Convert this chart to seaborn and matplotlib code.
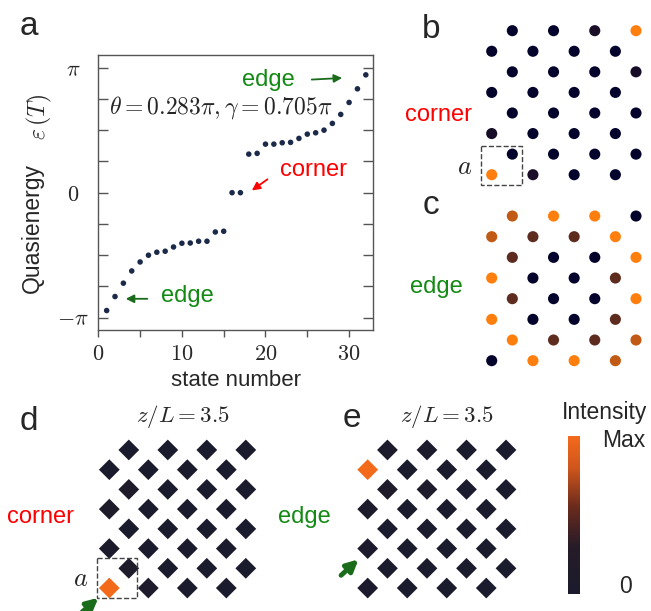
import numpy as np
import pandas as pd
import seaborn as sns
import matplotlib.pyplot as plt
from matplotlib.colors import LinearSegmentedColormap, Normalize
from matplotlib.cm import ScalarMappable
from matplotlib.patches import Rectangle

# Data

# Quasienergy spectrum (units of pi), panel a
state = list(range(1, 33))
energy = [-0.944, -0.832, -0.725, -0.627, -0.555, -0.501, -0.477, -0.469,
          -0.435, -0.405, -0.403, -0.389, -0.389, -0.315, -0.309, 0.0,
          0.0, 0.309, 0.315, 0.389, 0.389, 0.400, 0.403, 0.435,
          0.469, 0.480, 0.501, 0.555, 0.627, 0.723, 0.832, 0.944]

# Mode intensities on the 8 x 4 lattice (rows top to bottom), panels b and c
corner_mode = [[0, 0, 0.12, 1.0],
               [0, 0, 0, 0],
               [0, 0, 0, 0.1],
               [0, 0, 0, 0],
               [0, 0, 0, 0],
               [0.1, 0, 0, 0],
               [0, 0, 0, 0],
               [1.0, 0.12, 0, 0]]
edge_mode = [[0.75, 1.0, 1.0, 0],
             [0.75, 0.45, 0.45, 1.0],
             [0.45, 0, 0, 1.0],
             [1.0, 0, 0, 0.45],
             [0.45, 0, 0, 1.0],
             [1.0, 0, 0, 0.45],
             [1.0, 0.45, 0.45, 0.75],
             [0, 1.0, 1.0, 0.75]]

# Measured output intensities at z/L = 3.5, panels d and e
corner_out = [[0, 0, 0, 0],
              [0, 0, 0, 0],
              [0.12, 0, 0, 0],
              [0.1, 0, 0, 0],
              [0, 0, 0, 0],
              [0.06, 0, 0, 0],
              [0.1, 0, 0, 0],
              [1.0, 0.08, 0, 0]]
edge_out = [[0.05, 0.05, 0, 0],
            [1.0, 0, 0, 0],
            [0.15, 0.08, 0, 0],
            [0.06, 0, 0, 0],
            [0, 0, 0, 0],
            [0.03, 0, 0, 0],
            [0, 0, 0, 0],
            [0.02, 0, 0, 0]]


def lattice(vals):
    rows = []
    for r, row in enumerate(vals):
        for k, v in enumerate(row):
            col = 2 * k + 1 if r % 2 == 0 else 2 * k
            rows.append((col, r, v))
    return pd.DataFrame(rows, columns=['col', 'row', 'I'])


# Styles
sns.set_theme(style='white')
plt.rcParams['font.family'] = ['Liberation Sans', 'DejaVu Sans']
plt.rcParams['mathtext.fontset'] = 'cm'

cmap_mode = LinearSegmentedColormap.from_list(
    'mode', [(0, '#03032b'), (0.45, '#5e2c1f'), (0.75, '#c05a15'), (1, '#ff7f0e')])
cmap_exp = LinearSegmentedColormap.from_list(
    'exp', [(0, '#1a1b2d'), (0.3, '#261b28'), (0.55, '#6a2a1c'), (0.8, '#d0561c'), (1, '#f36a1b')])

green = '#138a13'
green_dk = '#1a6b1a'
red = '#ff0000'

W, H = 651, 611
fig = plt.figure(figsize=(W / 100, H / 100), dpi=100)


def px_axes(x0, y0, x1, y1):
    return fig.add_axes([x0 / W, 1 - y1 / H, (x1 - x0) / W, (y1 - y0) / H])


def ftext(px, py, s, **kw):
    fig.text(px / W, 1 - py / H, s, **kw)


# Panel a: quasienergy spectrum
ax = px_axes(98.3, 55, 373, 330)
sns.scatterplot(x=state, y=np.array(energy) * np.pi, color='#1c2a4a', s=16,
                edgecolor='none', ax=ax)
ax.set_xlim(0, 32.86)
ax.set_ylim(-1.10 * np.pi, 1.103 * np.pi)
ax.set_xticks([0, 10, 20, 30])
ax.set_xticks([5, 15, 25], minor=True)
ax.set_xticklabels(['$0$', '$10$', '$20$', '$30$'])
ax.set_yticks([-np.pi, 0, np.pi])
ax.set_yticks([k * np.pi / 4 for k in range(-4, 5)], minor=True)
ax.set_yticklabels([r'$-\pi$', '$0$', r'$\pi$'])
ax.tick_params(axis='y', which='both', direction='in', left=True, right=True,
               length=7, width=1, color='#555555', labelsize=16, pad=18)
ax.tick_params(axis='x', which='both', direction='out', bottom=True, top=False,
               length=5, width=1, color='#555555', labelsize=16, pad=5)
for lbl in ax.get_yticklabels():
    lbl.set_ha('center')
for sp in ax.spines.values():
    sp.set_color('#555555')
    sp.set_linewidth(1)
ax.set_xlabel('state number', fontsize=16, labelpad=4)
ax.set_ylabel('')

ax.text(14.6, 0.68 * np.pi, r'$\theta=0.283\pi,\gamma=0.705\pi$', fontsize=17,
        ha='center', va='center')
ax.text(20.4, 0.905 * np.pi, 'edge', color=green, fontsize=17, ha='center', va='center')
ax.annotate('', xy=(29.5, 0.92 * np.pi), xytext=(25.2, 0.905 * np.pi),
            arrowprops=dict(arrowstyle='-|>', color=green_dk, lw=1.3, mutation_scale=12))
ax.text(25.8, 0.18 * np.pi, 'corner', color=red, fontsize=17, ha='center', va='center')
ax.annotate('', xy=(18.1, 0.005 * np.pi), xytext=(20.5, 0.12 * np.pi),
            arrowprops=dict(arrowstyle='-|>', color=red, lw=1.3, mutation_scale=12))
ax.text(10.6, -0.83 * np.pi, 'edge', color=green, fontsize=17, ha='center', va='center')
ax.annotate('', xy=(2.95, -0.85 * np.pi), xytext=(6.2, -0.85 * np.pi),
            arrowprops=dict(arrowstyle='-|>', color=green_dk, lw=1.3, mutation_scale=12))

ftext(32, 228, 'Quasienergy', fontsize=16.5, rotation=90, ha='center', va='center')
ftext(39, 117, r'$\varepsilon\,(T)$', fontsize=17, rotation=90, ha='center', va='center')


# Panels b, c: eigenmode profiles
def mode_panel(box, vals):
    a = px_axes(*box)
    sns.scatterplot(data=lattice(vals), x='col', y='row', hue='I', palette=cmap_mode,
                    hue_norm=(0, 1), s=64, edgecolor='none', legend=False,
                    clip_on=False, ax=a)
    a.set_xlim(-0.5, 7.5)
    a.set_ylim(7.5, -0.5)
    a.set_axis_off()
    return a


axb = mode_panel((481.4, 20.4, 646.3, 185), corner_mode)
axb.add_patch(Rectangle((-0.5, 5.6), 1.95, 1.9, fill=False, ls='--', lw=1,
                        ec='#444444', clip_on=False))
mode_panel((481.4, 205.7, 646.3, 371), edge_mode)


# Panels d, e: output intensity at z/L = 3.5
def exp_panel(box, vals):
    a = px_axes(*box)
    sns.scatterplot(data=lattice(vals), x='col', y='row', hue='I', palette=cmap_exp,
                    hue_norm=(0, 1), marker='D', s=112, edgecolor='none', legend=False,
                    clip_on=False, ax=a)
    a.set_xlim(-0.5, 7.5)
    a.set_ylim(7.5, -0.5)
    a.set_axis_off()
    return a


axd = exp_panel((99.55, 440.1, 255.55, 597.9), corner_out)
axd.add_patch(Rectangle((-0.62, 5.48), 2.02, 2.03, fill=False, ls='--', lw=1,
                        ec='#444444', clip_on=False))
axd.annotate('', xy=(-0.45, 7.4), xytext=(-1.5, 8.3), annotation_clip=False,
             arrowprops=dict(arrowstyle='-|>', color=green_dk, lw=3.5, mutation_scale=17))

axe = exp_panel((357.8, 440.1, 515.9, 597.9), edge_out)
axe.annotate('', xy=(-0.36, 5.45), xytext=(-1.45, 6.45), annotation_clip=False,
             arrowprops=dict(arrowstyle='-|>', color=green_dk, lw=3.5, mutation_scale=17))

cax = px_axes(568.3, 435.7, 580, 594.3)
cb = fig.colorbar(ScalarMappable(norm=Normalize(0, 1), cmap=cmap_exp), cax=cax)
cb.set_ticks([])
cb.outline.set_visible(False)

# Text labels
ftext(28.5, 35, 'a', fontsize=24, ha='center', va='baseline')
ftext(431, 38, 'b', fontsize=24, ha='center', va='baseline')
ftext(431, 214, 'c', fontsize=24, ha='center', va='baseline')
ftext(28.5, 430, 'd', fontsize=24, ha='center', va='baseline')
ftext(351.7, 426.7, 'e', fontsize=24, ha='center', va='baseline')

ftext(438, 120.7, 'corner', color=red, fontsize=17, ha='center', va='baseline')
ftext(436, 292.7, 'edge', color=green, fontsize=17, ha='center', va='baseline')
ftext(465, 167, '$a$', fontsize=19, ha='center', va='center')

ftext(40.5, 523.3, 'corner', color=red, fontsize=17, ha='center', va='baseline')
ftext(304, 523.3, 'edge', color=green, fontsize=17, ha='center', va='baseline')
ftext(81, 579, '$a$', fontsize=19, ha='center', va='center')
ftext(183, 416.7, '$z/L=3.5$', fontsize=16.5, ha='center', va='center')
ftext(446.7, 417, '$z/L=3.5$', fontsize=16.5, ha='center', va='center')

ftext(647, 419.3, 'Intensity', fontsize=16.5, ha='right', va='baseline')
ftext(645, 447.3, 'Max', fontsize=16.5, ha='right', va='baseline')
ftext(632, 593.3, '0', fontsize=16.5, ha='right', va='baseline')

fig.savefig('out.png', dpi=100)
